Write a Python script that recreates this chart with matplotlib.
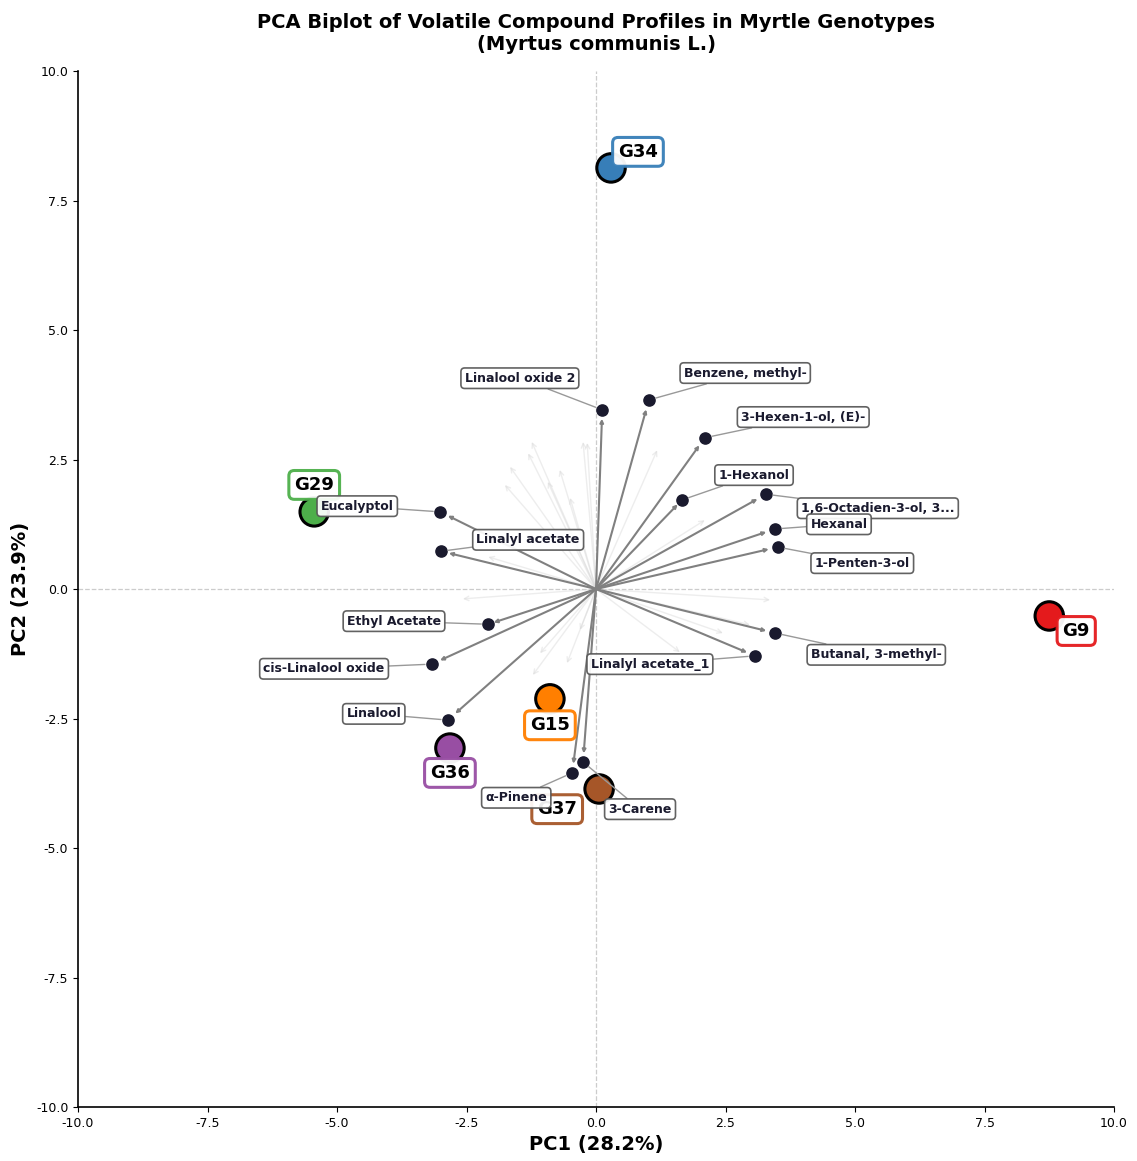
import matplotlib
matplotlib.use("Agg")
import matplotlib.pyplot as plt
import numpy as np

# Genotype scores
genotypes = ["G34", "G29", "G9", "G15", "G36", "G37"]
geno_x = [0.29, -5.44, 8.75, -0.89, -2.82, 0.06]
geno_y = [8.13, 1.49, -0.52, -2.12, -3.07, -3.86]
geno_colors = ["#377eb8", "#4daf4a", "#e41a1c", "#ff7f00", "#984ea3", "#a65628"]
geno_label_x = [0.81, -5.44, 9.27, -0.89, -2.82, -0.75]
geno_label_y = [8.44, 2.01, -0.81, -2.63, -3.55, -4.25]

# Top loadings (scaled)
compounds = ["Linalool oxide 2", "Benzene, methyl-", "3-Hexen-1-ol, (E)-", "1-Hexanol",
             "1,6-Octadien-3-ol, 3...", "Hexanal", "1-Penten-3-ol", "Eucalyptol",
             "Linalyl acetate", "Ethyl Acetate", "cis-Linalool oxide", "Linalool",
             "Butanal, 3-methyl-", "Linalyl acetate_1", "3-Carene", "\u03b1-Pinene"]
load_x = [0.12, 1.02, 2.10, 1.66, 3.28, 3.46, 3.51, -3.01,
          -2.99, -2.08, -3.17, -2.86, 3.46, 3.07, -0.25, -0.46]
load_y = [3.46, 3.65, 2.92, 1.72, 1.83, 1.16, 0.81, 1.49,
          0.73, -0.68, -1.45, -2.53, -0.85, -1.29, -3.34, -3.55]
label_x = [-1.47, 2.88, 4.00, 3.05, 5.44, 4.69, 5.14, -4.61,
           -1.31, -3.90, -5.25, -4.29, 5.41, 1.04, 0.85, -1.54]
label_y = [4.07, 4.17, 3.32, 2.20, 1.56, 1.25, 0.50, 1.60,
           0.95, -0.62, -1.54, -2.41, -1.27, -1.45, -4.25, -4.03]

# Minor loadings (faint arrows)
minor_x = [-1.24, -1.66, -1.76, -1.31, -0.93, -0.70, -0.50, -0.25, -0.17, -2.08,
           1.18, 2.10, 3.36, -2.57, 2.45, 1.62, -1.08, -1.22, -0.56, -0.31, 2.97]
minor_y = [2.84, 2.36, 2.01, 2.62, 2.07, 2.30, 1.76, 2.84, 2.82, 0.62,
           2.68, 1.33, -0.21, -0.19, -0.85, -1.22, -1.24, -1.66, -1.43, -0.79, -0.69]

fig = plt.figure(figsize=(11.37, 11.61), dpi=100)
ax = fig.add_axes([0.0686, 0.0465, 0.9112, 0.8923])

ax.axhline(0, color="#cccccc", lw=0.9, ls="--", zorder=0)
ax.axvline(0, color="#cccccc", lw=0.9, ls="--", zorder=0)

for mx, my in zip(minor_x, minor_y):
    ax.annotate("", xy=(mx, my), xytext=(0, 0),
                arrowprops=dict(arrowstyle="->", color="#d8d8d8", lw=1.0, alpha=0.45,
                                shrinkA=0, shrinkB=0, mutation_scale=8), zorder=1)

for lx, ly in zip(load_x, load_y):
    ax.annotate("", xy=(lx * 0.95, ly * 0.95), xytext=(0, 0),
                arrowprops=dict(arrowstyle="-|>", color="#808080", lw=1.5,
                                shrinkA=0, shrinkB=0, mutation_scale=5), zorder=2)

ax.scatter(load_x, load_y, s=65, color="#1a1a2e", zorder=3)

ax.scatter(geno_x, geno_y, s=420, c=geno_colors, edgecolors="black", linewidths=2.2, zorder=4)

for g, gx, gy, c in zip(genotypes, geno_label_x, geno_label_y, geno_colors):
    ax.text(gx, gy, g, fontsize=13, fontweight="bold", ha="center", va="center",
            color="black", zorder=5,
            bbox=dict(boxstyle="round,pad=0.3", fc="white", ec=c, lw=2.2, alpha=0.95))

for name, lx, ly, tx, ty in zip(compounds, load_x, load_y, label_x, label_y):
    ax.annotate(name, xy=(lx, ly), xytext=(tx, ty), fontsize=9, fontweight="bold",
                color="#1a1a2e", ha="center", va="center", zorder=6,
                bbox=dict(boxstyle="round,pad=0.3", fc="white", ec="#555555", lw=1.2, alpha=0.92),
                arrowprops=dict(arrowstyle="-", color="#999999", lw=1.0, shrinkA=0, shrinkB=5))

ax.set_xlim(-10, 10)
ax.set_ylim(-10, 10)
ticks = np.arange(-10, 10.1, 2.5)
ax.set_xticks(ticks)
ax.set_yticks(ticks)
ax.set_xticklabels([f"{t:.1f}" for t in ticks], fontsize=9)
ax.set_yticklabels([f"{t:.1f}" for t in ticks], fontsize=9)
ax.spines["top"].set_visible(False)
ax.spines["right"].set_visible(False)
ax.spines["left"].set_linewidth(1.2)
ax.spines["bottom"].set_linewidth(1.2)

ax.set_xlabel("PC1 (28.2%)", fontsize=14, fontweight="bold")
ax.set_ylabel("PC2 (23.9%)", fontsize=14, fontweight="bold")
ax.set_title("PCA Biplot of Volatile Compound Profiles in Myrtle Genotypes\n(Myrtus communis L.)",
             fontsize=14, fontweight="bold", pad=15)

fig.savefig("out.png", dpi=100)
